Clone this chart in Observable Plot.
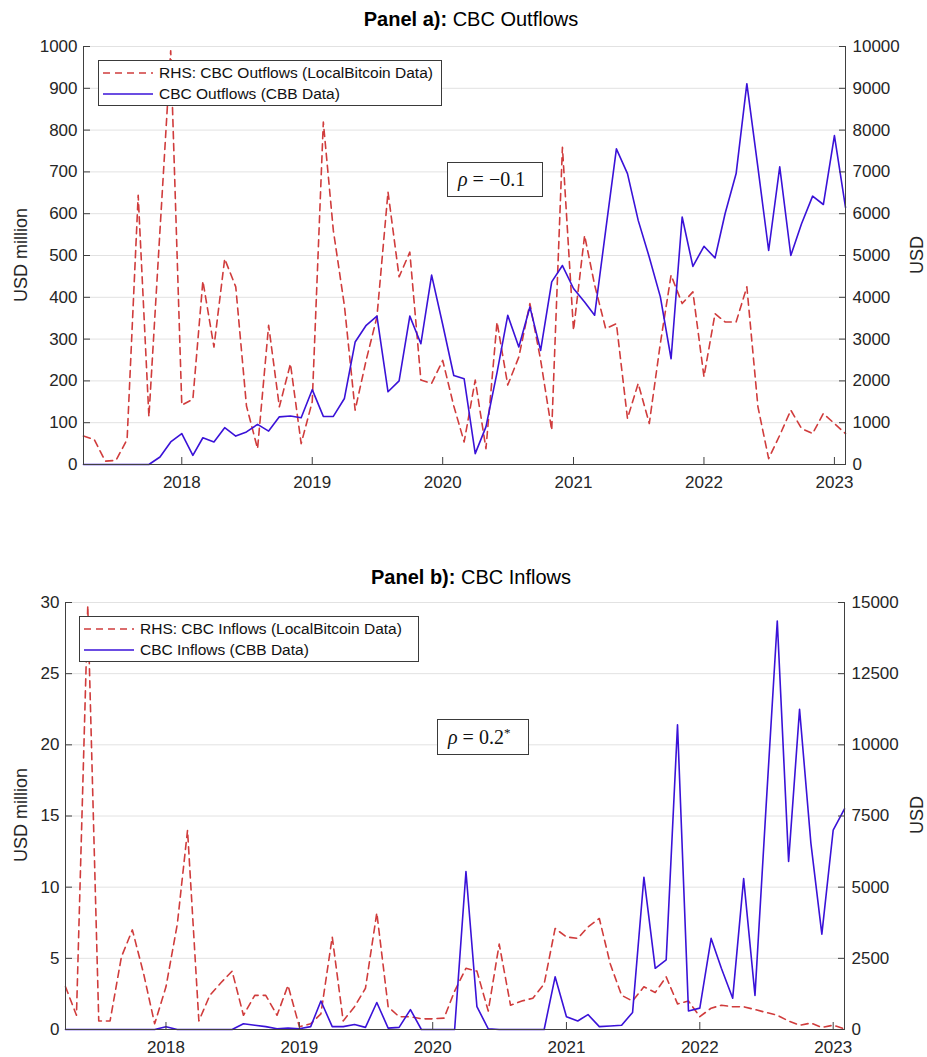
<!DOCTYPE html>
<html><head><meta charset="utf-8">
<script src="https://cdn.jsdelivr.net/npm/d3@7"></script>
<script src="https://cdn.jsdelivr.net/npm/@observablehq/plot@0.6"></script>
<style>
body{margin:0;background:#fff;font-family:"Liberation Sans",Arial,sans-serif;}
#root{position:relative;width:927px;height:1057px;overflow:hidden;background:#fff;}
.svgwrap{position:absolute;left:0;}
.svgwrap svg{overflow:visible;}
.title{position:absolute;left:0;width:942px;text-align:center;font-size:20px;color:#000;line-height:24px;}
.ylab{position:absolute;font-size:18px;color:#262626;white-space:nowrap;line-height:18px;transform:translate(-50%,-50%) rotate(-90deg);}
.legend{position:absolute;border:1px solid #3a3a3a;background:#fff;font-size:15.5px;color:#111;box-sizing:border-box;}
.legend .row{position:absolute;left:0;height:20px;display:flex;align-items:center;white-space:nowrap;}
.legend svg{display:block;}
.rho{position:absolute;border:1px solid #3a3a3a;background:#fff;box-sizing:border-box;font-family:"Liberation Serif","DejaVu Serif",serif;font-size:20px;color:#111;white-space:nowrap;}
.rho i{font-style:italic;}
</style>
</head><body>
<div id="root"></div>
<script>
// ---------- data ----------
// monthly observations, Apr 2017 .. Feb 2023
const startMonth = "2017-04-01";
const endMonth = "2023-02-01";
const yearTicks = ["2018-01-01","2019-01-01","2020-01-01","2021-01-01","2022-01-01","2023-01-01"];

// Panel a: CBC Outflows
const outflowsCBB = [0,0,0,0,0,0,0,18,54,74,22,64,54,88,68,78,96,80,114,116,112,179,115,115,158,293,333,355,174,200,355,289,453,335,213,205,26,90,220,357,281,377,273,437,476,421,389,357,560,755,696,584,496,401,253,592,474,522,494,600,696,911,710,512,712,500,576,642,622,787,615]; // USD million (LHS)
const outflowsLocalBitcoin = [680,600,80,100,600,6440,1140,5600,9900,1420,1560,4390,2810,4920,4250,1400,380,3330,1380,2410,500,1500,8190,5600,3800,1300,2500,3530,6520,4490,5080,2020,1940,2490,1400,540,2020,380,3410,1900,2570,3850,2500,820,7590,3210,5480,4300,3250,3370,1100,1940,980,2900,4530,3850,4130,2100,3610,3410,3410,4250,1380,140,700,1300,860,740,1220,980,740]; // USD (RHS)
const lhsTicksA = [0,100,200,300,400,500,600,700,800,900,1000];
const rhsTicksA = [0,1000,2000,3000,4000,5000,6000,7000,8000,9000,10000];

// Panel b: CBC Inflows
const inflowsCBB = [0,0,0,0,0,0,0,0,0,0.2,0,0,0,0,0,0,0.4,0.3,0.2,0.05,0.1,0.05,0.2,2.0,0.2,0.2,0.35,0.15,1.9,0.1,0.15,1.4,0,0,0,0,11.1,1.6,0.05,0,0,0,0,0,3.7,0.9,0.6,1.05,0.2,0.25,0.3,1.2,10.7,4.3,4.9,21.4,1.3,1.5,6.4,4.3,2.2,10.6,2.4,15.5,28.7,11.8,22.5,13.1,6.7,14.0,15.5]; // USD million (LHS)
const inflowsLocalBitcoin = [1500,500,14900,300,300,2550,3500,1950,200,1500,3700,7000,300,1200,1650,2050,500,1200,1200,500,1550,100,200,550,3250,300,800,1450,4100,800,450,450,375,375,400,1350,2150,2050,650,3000,850,1000,1100,1600,3550,3250,3200,3600,3900,2300,1200,1000,1500,1300,1850,900,1000,450,750,850,800,800,700,600,500,300,150,225,75,150,25]; // USD (RHS)
const lhsTicksB = [0,5,10,15,20,25,30];
const rhsTicksB = [0,2500,5000,7500,10000,12500,15000];

const BLUE = "#3a12d8";
const RED = "#d03c3c";
const AXIS = "#404040";

const months = d3.utcMonth.range(new Date(startMonth), d3.utcMonth.offset(new Date(endMonth), 1));

function makePanel(o) {
  const lhsMax = o.lhsTicks[o.lhsTicks.length - 1];
  const rhsMax = o.rhsTicks[o.rhsTicks.length - 1];
  const k = rhsMax / lhsMax;
  const rows = months.map((d, i) => ({date: d, cbb: o.cbb[i], lbc: o.lbc[i] / k}));
  const x0 = months[0], x1 = months[months.length - 1];
  return Plot.plot({
    width: 927, height: o.height,
    marginLeft: o.ml, marginRight: o.mr, marginTop: o.mt, marginBottom: o.mb,
    style: {fontFamily: "'Liberation Sans', Arial, sans-serif", fontSize: "17px", color: "#262626", background: "transparent", overflow: "visible"},
    x: {type: "utc", domain: [x0, x1]},
    y: {domain: [0, lhsMax]},
    marks: [
      Plot.gridY(o.lhsTicks, {stroke: "#e2e2e2", strokeOpacity: 1, strokeWidth: 1}),
      Plot.line(rows, {x: "date", y: "lbc", stroke: RED, strokeWidth: 1.6, strokeDasharray: "7,5"}),
      Plot.line(rows, {x: "date", y: "cbb", stroke: BLUE, strokeWidth: 1.6}),
      Plot.ruleY([0], {stroke: AXIS}),
      Plot.ruleX([x0], {stroke: AXIS}),
      Plot.ruleX([x1], {stroke: AXIS}),
      Plot.axisY(o.lhsTicks, {anchor: "left", tickSize: -7, tickPadding: 13, stroke: AXIS, tickFormat: d => String(d),
        label: null, fontSize: 17}),
      Plot.axisY(o.rhsTicks.map(v => v / k), {anchor: "right", tickSize: -7, tickPadding: 14, stroke: AXIS,
        tickFormat: d => String(Math.round(d * k)), label: null, fontSize: 17}),
      Plot.axisX(yearTicks.map(d => new Date(d)), {anchor: "bottom", tickSize: -7, tickPadding: 18, stroke: AXIS,
        tickFormat: d3.utcFormat("%Y"), label: null, fontSize: 17})
    ]
  });
}

const root = document.getElementById("root");

function addTitle(bold, rest, top) {
  const t = document.createElement("div");
  t.className = "title";
  t.style.top = top + "px";
  t.innerHTML = `<b>${bold}</b> ${rest}`;
  root.appendChild(t);
}
function addYLabel(text, cx, cy) {
  const t = document.createElement("div");
  t.className = "ylab";
  t.style.left = cx + "px";
  t.style.top = cy + "px";
  t.textContent = text;
  root.appendChild(t);
}
function addSvg(svg, top) {
  const w = document.createElement("div");
  w.className = "svgwrap";
  w.style.top = top + "px";
  w.appendChild(svg);
  root.appendChild(w);
}
function sample(color, dash) {
  return `<svg width="50" height="4" style="margin-right:6px"><line x1="0" y1="2" x2="50" y2="2" stroke="${color}" stroke-width="1.6" ${dash ? `stroke-dasharray="${dash}"` : ""}/></svg>`;
}
function addLegend(labels, left, top, width, height) {
  const l = document.createElement("div");
  l.className = "legend";
  Object.assign(l.style, {left: left + "px", top: top + "px", width: width + "px", height: height + "px"});
  l.innerHTML =
    `<div class="row" style="top:2px;left:4px">${sample(RED, "7,5")}<span>${labels[0]}</span></div>` +
    `<div class="row" style="top:23px;left:4px">${sample(BLUE)}<span>${labels[1]}</span></div>`;
  root.appendChild(l);
}
function addRho(html, left, top, width, height) {
  const r = document.createElement("div");
  r.className = "rho";
  Object.assign(r.style, {left: left + "px", top: top + "px", width: width + "px", height: height + "px",
    lineHeight: (height - 2) + "px", paddingLeft: "10px"});
  r.innerHTML = html;
  root.appendChild(r);
}

// Panel a
addTitle("Panel a):", "CBC Outflows", 7);
addSvg(makePanel({cbb: outflowsCBB, lbc: outflowsLocalBitcoin, lhsTicks: lhsTicksA, rhsTicks: rhsTicksA,
  height: 500, ml: 83, mr: 82, mt: 46, mb: 36}), 0);
addYLabel("USD million", 21, 255);
addYLabel("USD", 917, 255);
addLegend(["RHS: CBC Outflows (LocalBitcoin Data)", "CBC Outflows (CBB Data)"], 98, 60, 344, 46);
addRho("<i>ρ</i> = −0.1", 447, 162, 96, 35);

// Panel b
addTitle("Panel b):", "CBC Inflows", 565);
addSvg(makePanel({cbb: inflowsCBB, lbc: inflowsLocalBitcoin, lhsTicks: lhsTicksB, rhsTicks: rhsTicksB,
  height: 497, ml: 65, mr: 83, mt: 42, mb: 28}), 560);
addYLabel("USD million", 21, 815);
addYLabel("USD", 917, 815);
addLegend(["RHS: CBC Inflows (LocalBitcoin Data)", "CBC Inflows (CBB Data)"], 79, 616, 340, 46);
addRho("<i>ρ</i> = 0.2<sup style='font-size:13px;vertical-align:7px;line-height:0'>*</sup>", 437, 719, 92, 36);
</script>
</body></html>
